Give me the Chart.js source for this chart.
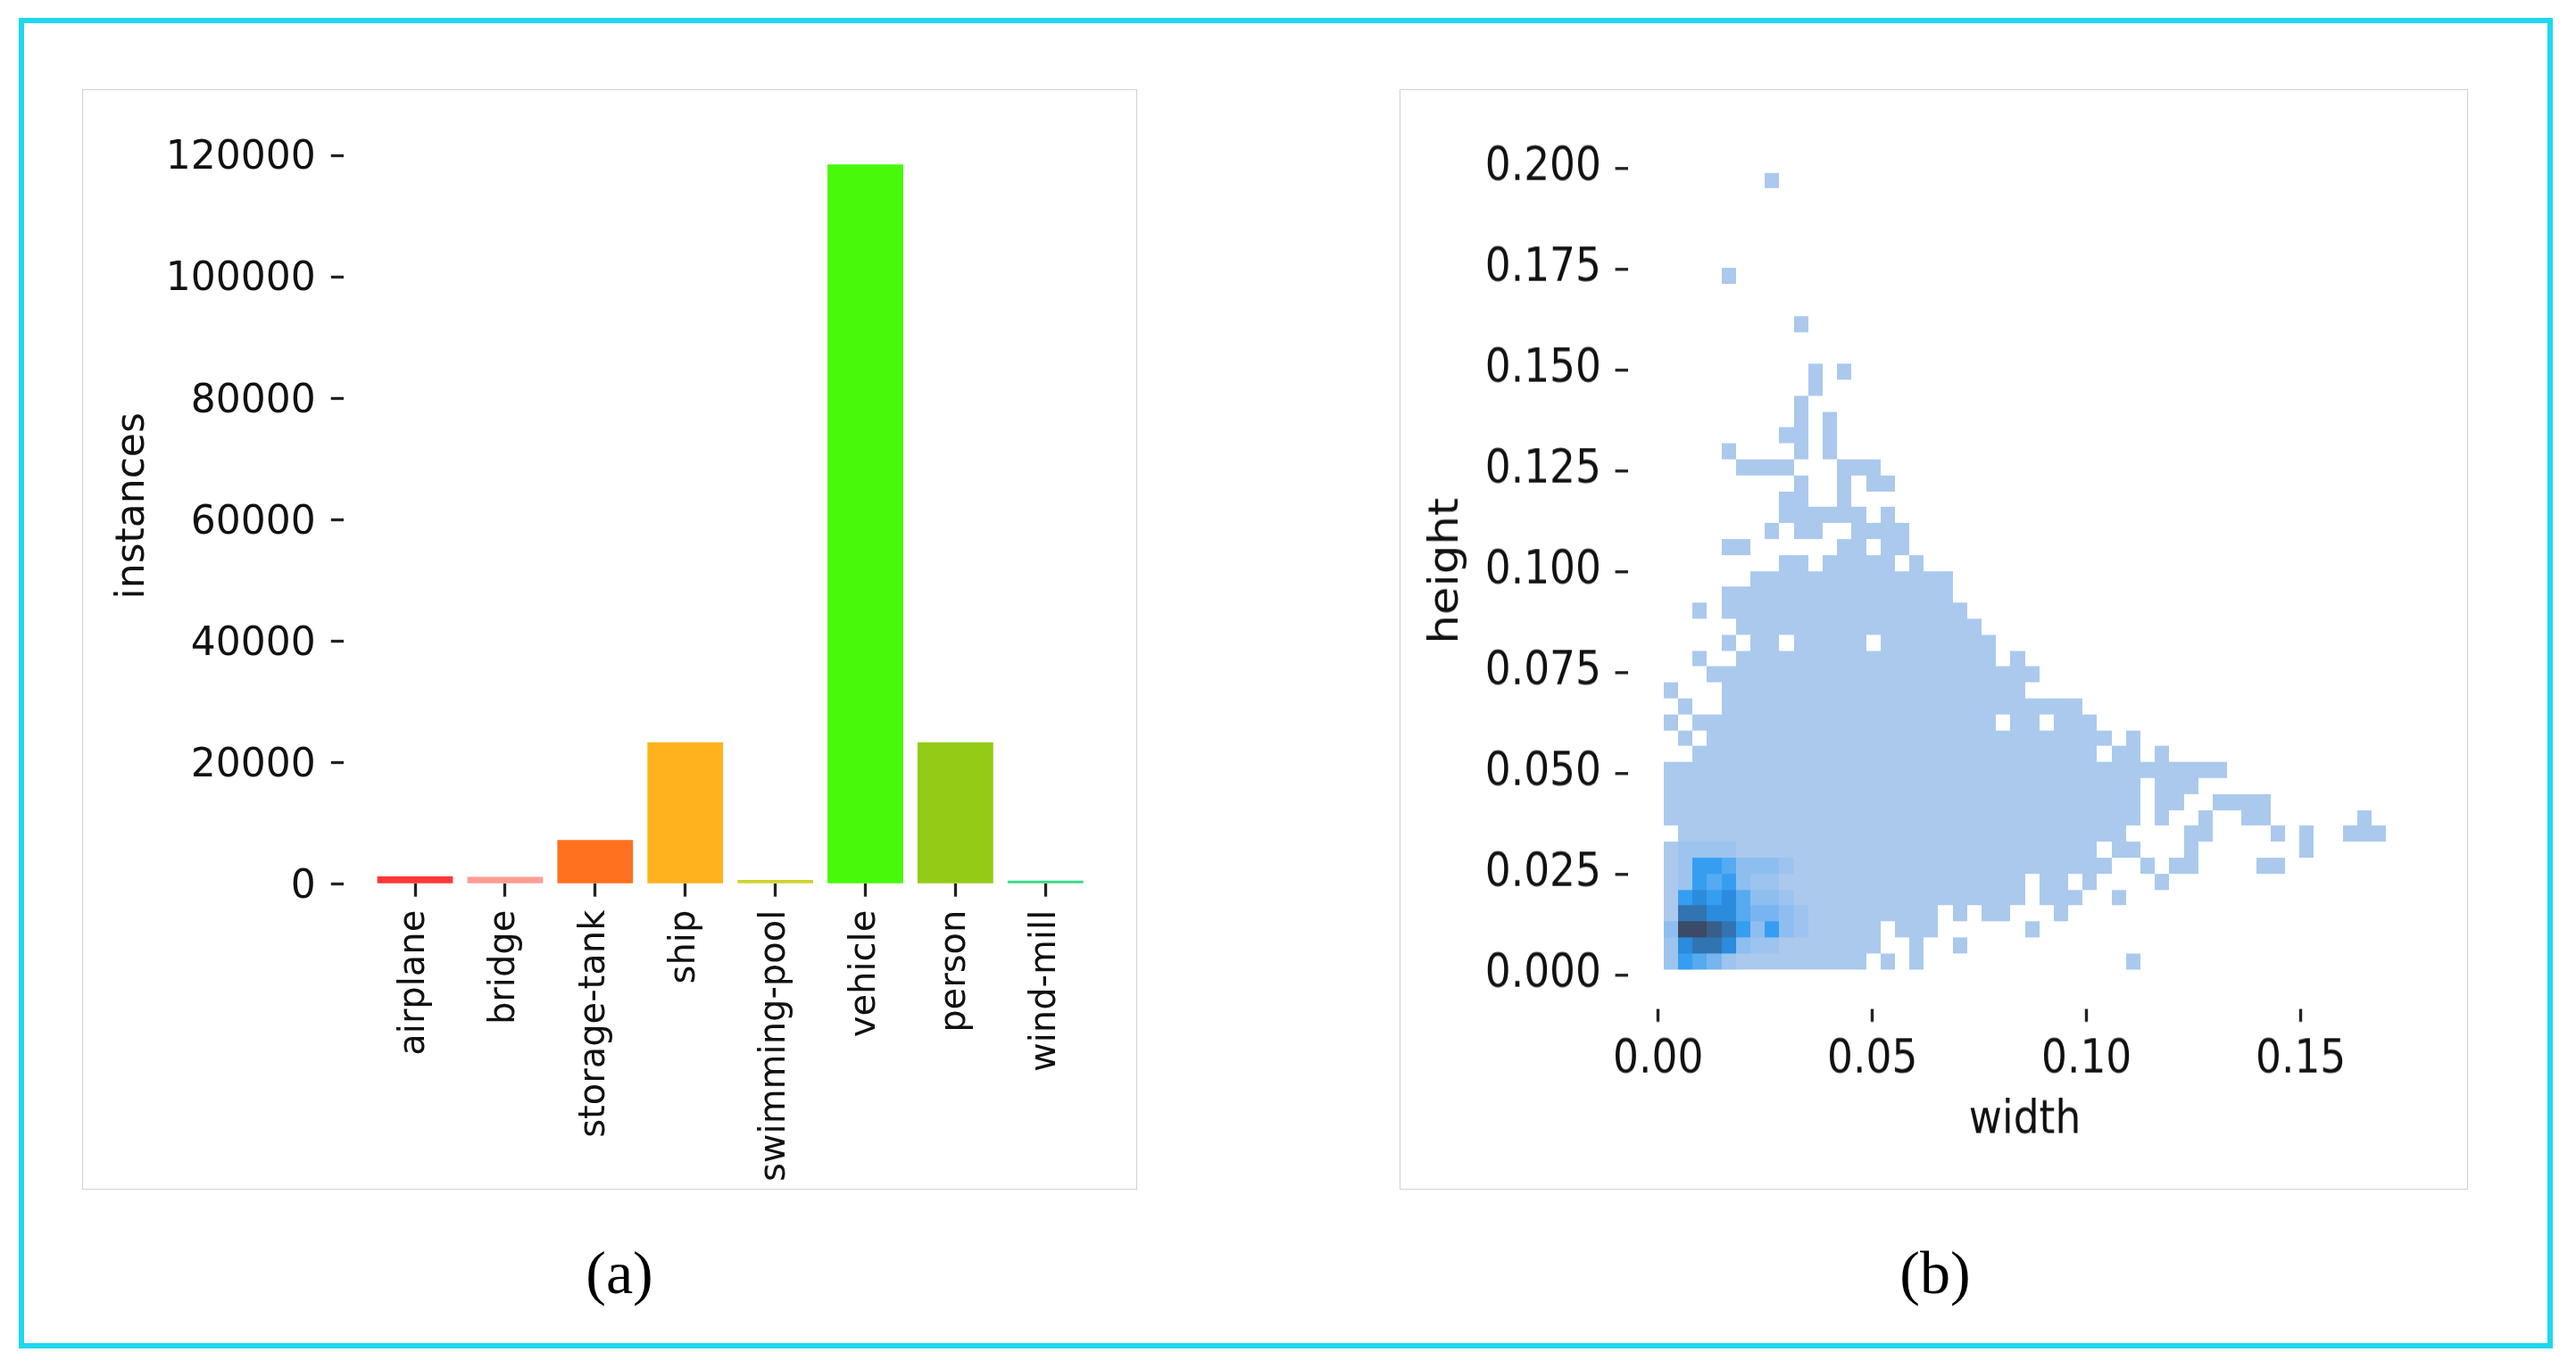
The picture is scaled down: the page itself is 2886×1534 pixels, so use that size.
<!DOCTYPE html>
<html>
<head>
<meta charset="utf-8">
<script src="https://cdn.jsdelivr.net/npm/chart.js@4.4.1/dist/chart.umd.min.js"></script>
<title>instances per class and box sizes</title>
<style>
  body { margin:0; background:#fff; width:2886px; height:1534px; position:relative; overflow:hidden; }
  .frame { position:absolute; left:21px; top:20px; width:2827px; height:1479px; border:6px solid #1ed8ef; }
  .panel { position:absolute; box-sizing:border-box; border:1px solid #d2d2d2; }
  canvas { position:absolute; }
  .cap { position:absolute; width:200px; text-align:center; font-family:"Liberation Serif"; font-size:68px; line-height:68px; color:#000; }
</style>
</head>
<body>
<div class="frame"></div>
<div class="panel" style="left:92px;top:100px;width:1182px;height:1233px"></div>
<div class="panel" style="left:1568px;top:100px;width:1197px;height:1233px"></div>
<canvas id="bars" width="1182" height="1233" style="left:92px;top:100px"></canvas>
<canvas id="heat" width="1197" height="1091" style="left:1568px;top:100px;transform:scaleY(1.13);transform-origin:0 0"></canvas>
<div class="cap" style="left:594px;top:1392px">(a)</div>
<div class="cap" style="left:2068px;top:1392px">(b)</div>
<script>
// (a) instances per class
const categories = ['airplane', 'bridge', 'storage-tank', 'ship', 'swimming-pool', 'vehicle', 'person', 'wind-mill'];
const instances = [1200, 1150, 7200, 23300, 600, 118500, 23300, 500];
const barColors = ['#ff3838', '#ff9d97', '#ff701f', '#ffb21d', '#cfd231', '#48f90a', '#92cc17', '#3ddb86'];
const instanceTicks = [0, 20000, 40000, 60000, 80000, 100000, 120000];

// (b) width/height 2d histogram, 50x50 bins
const widthTicks = [0, 0.05, 0.10, 0.15];
const heightTicks = [0, 0.025, 0.05, 0.075, 0.1, 0.125, 0.15, 0.175, 0.2];
const widthRange = [0.0013, 0.1699];
const heightRange = [0.0014, 0.1989];
const binCount = 50;
// occupied width-bins for each height-bin, top row first
const occupiedTopDown = [
  '7', '', '', '', '', '', '4', '', '', '9',
  '', '', '10,12', '10', '9', '9,11', '8-9,11', '4,9,11', '5-8,12-14', '9,12,14-15',
  '8-9,12', '8-13,15', '7,9-10,13-16', '4-5,12-13,15-16', '8-9,11-15,17', '6-19', '4-19', '2,4-20', '5-21', '4,6-7,9-13,15-22',
  '2,5-22,24', '3-25', '0,4-24', '1,4-28', '0,2-22,24-25,27-29', '1,3-30,32', '2-29,31-32,34', '0-38', '0-32,34-36', '0-32,34-35,38-41',
  '0-32,34,37,40-41,48', '1-31,36-37,42,44,47-49', '0-29,31-32,36,44', '0-30,33,35-36,41-42', '0-24,26-27,29,34', '0-24,26-28,31', '0-18,20,22-23,27', '0-14,16-18,25', '0-14,17,20', '0-13,15,17,32'
];
// count level of the dense corner, rows 42..49 from top, width-bins 0..9
const coreFirstRow = 42;
const coreLevels = [
  '1222211111',
  '1266533321',
  '1265632211',
  '1676753321',
  '1887754432',
  '3AA9863632',
  '2788732211',
  '2654211111'
];
const levelColors = ['#ffffff', '#abc9ed', '#9cc4ef', '#8ebef0', '#78b5f0', '#55aaf0', '#359ef1', '#2b8bdc', '#3273b2', '#3a5e8c', '#3b4a66'];

Chart.defaults.font.family = 'DejaVu Sans';
Chart.defaults.color = '#111';

function parseRow(str) {
  const cols = [];
  if (!str) return cols;
  str.split(',').forEach(part => {
    const ends = part.split('-').map(Number);
    const last = ends.length > 1 ? ends[1] : ends[0];
    for (let c = ends[0]; c <= last; c++) cols.push(c);
  });
  return cols;
}

// ---------- (a) bars ----------
const yTickFont = {family: 'DejaVu Sans', size: 44};
const xTickFont = {family: 'DejaVu Sans', size: 40};
const labelFont = {family: 'DejaVu Sans', size: 44};
new Chart(document.getElementById('bars'), {
  type: 'bar',
  data: {
    datasets: [{
      data: instances.map((v, i) => ({x: i, y: v})),
      backgroundColor: barColors,
      categoryPercentage: 1,
      barPercentage: 0.84
    }]
  },
  options: {
    responsive: false,
    animation: false,
    devicePixelRatio: 1,
    layout: {padding: {left: 0, top: 42, right: 23, bottom: 0}},
    plugins: {legend: {display: false}, tooltip: {enabled: false}},
    scales: {
      x: {
        type: 'linear', min: -0.79, max: 7.79, offset: false,
        afterBuildTicks: s => { s.ticks = categories.map((c, i) => ({value: i})); },
        afterFit: s => { s.height = 342.8; },
        ticks: {callback: v => categories[v], minRotation: 90, maxRotation: 90, autoSkip: false, font: xTickFont, color: '#111', padding: 15},
        grid: {offset: false, drawOnChartArea: false, tickLength: 14.5, tickWidth: 3.3, tickColor: '#222'},
        border: {display: false}
      },
      y: {
        min: 0, max: 124500,
        afterBuildTicks: s => { s.ticks = instanceTicks.map(v => ({value: v})); },
        afterFit: s => { s.width = 293.3; },
        ticks: {callback: v => String(v), font: yTickFont, color: '#111', padding: 17, labelOffset: 4},
        grid: {drawOnChartArea: false, tickLength: 14.5, tickWidth: 3.3, tickColor: '#222'},
        border: {display: false},
        title: {display: true, text: 'instances', font: labelFont, color: '#111', padding: {top: 31.6, bottom: 0}}
      }
    }
  }
});

// ---------- (b) 2d histogram ----------
const S = 1.13;                       // vertical stretch of panel (b)
const heatH = 1091;                   // canvas height before stretch
const toC = y => (y - 100) / S;       // page y -> canvas y
const heatFont = {family: 'DejaVu Sans', size: 45.5};

const heatCells = {
  id: 'heatCells',
  beforeDatasetsDraw(chart) {
    const {ctx, scales: {x, y}} = chart;
    const bw = (widthRange[1] - widthRange[0]) / binCount;
    const bh = (heightRange[1] - heightRange[0]) / binCount;
    ctx.save();
    occupiedTopDown.forEach((row, t) => {
      const r = binCount - 1 - t;
      const y0 = Math.round(y.getPixelForValue(heightRange[0] + (r + 1) * bh));
      const y1 = Math.round(y.getPixelForValue(heightRange[0] + r * bh));
      parseRow(row).forEach(c => {
        const x0 = Math.round(x.getPixelForValue(widthRange[0] + c * bw));
        const x1 = Math.round(x.getPixelForValue(widthRange[0] + (c + 1) * bw));
        let lvl = 1;
        const k = t - coreFirstRow;
        if (k >= 0 && k < coreLevels.length && c < coreLevels[k].length) lvl = parseInt(coreLevels[k][c], 16);
        ctx.fillStyle = levelColors[lvl];
        ctx.fillRect(x0, y0, x1 - x0, y1 - y0);
      });
    });
    ctx.restore();
  }
};

new Chart(document.getElementById('heat'), {
  type: 'scatter',
  data: {datasets: [{data: []}]},
  options: {
    responsive: false,
    animation: false,
    devicePixelRatio: 1,
    layout: {padding: {left: 0, top: toC(142), right: 1197 - (2713.5 - 1568), bottom: 0}},
    plugins: {legend: {display: false}, tooltip: {enabled: false}},
    scales: {
      x: {
        type: 'linear', min: -0.0071, max: 0.1783,
        afterBuildTicks: s => { s.ticks = widthTicks.map(v => ({value: v})); },
        afterFit: s => { s.height = heatH - toC(1130.9); },
        ticks: {callback: v => v.toFixed(2), maxRotation: 0, autoSkip: false, font: heatFont, color: '#111', padding: 11},
        grid: {drawOnChartArea: false, tickLength: 14 / S, tickWidth: 3.4, tickColor: '#222'},
        border: {display: false},
        title: {display: true, text: 'width', font: heatFont, color: '#111', padding: {top: 0, bottom: 41}}
      },
      y: {
        type: 'linear', min: -0.0085, max: 0.2088,
        afterBuildTicks: s => { s.ticks = heightTicks.map(v => ({value: v})); },
        afterFit: s => { s.width = 1823.6 - 1568; },
        ticks: {callback: v => v.toFixed(3), autoSkip: false, font: heatFont, color: '#111', padding: 15.6},
        grid: {drawOnChartArea: false, tickLength: 14, tickWidth: 3.4 / S, tickColor: '#222'},
        border: {display: false},
        title: {display: true, text: 'height', font: heatFont, color: '#111', padding: {top: 25.8, bottom: 0}}
      }
    }
  },
  plugins: [heatCells]
});
</script>
</body>
</html>
